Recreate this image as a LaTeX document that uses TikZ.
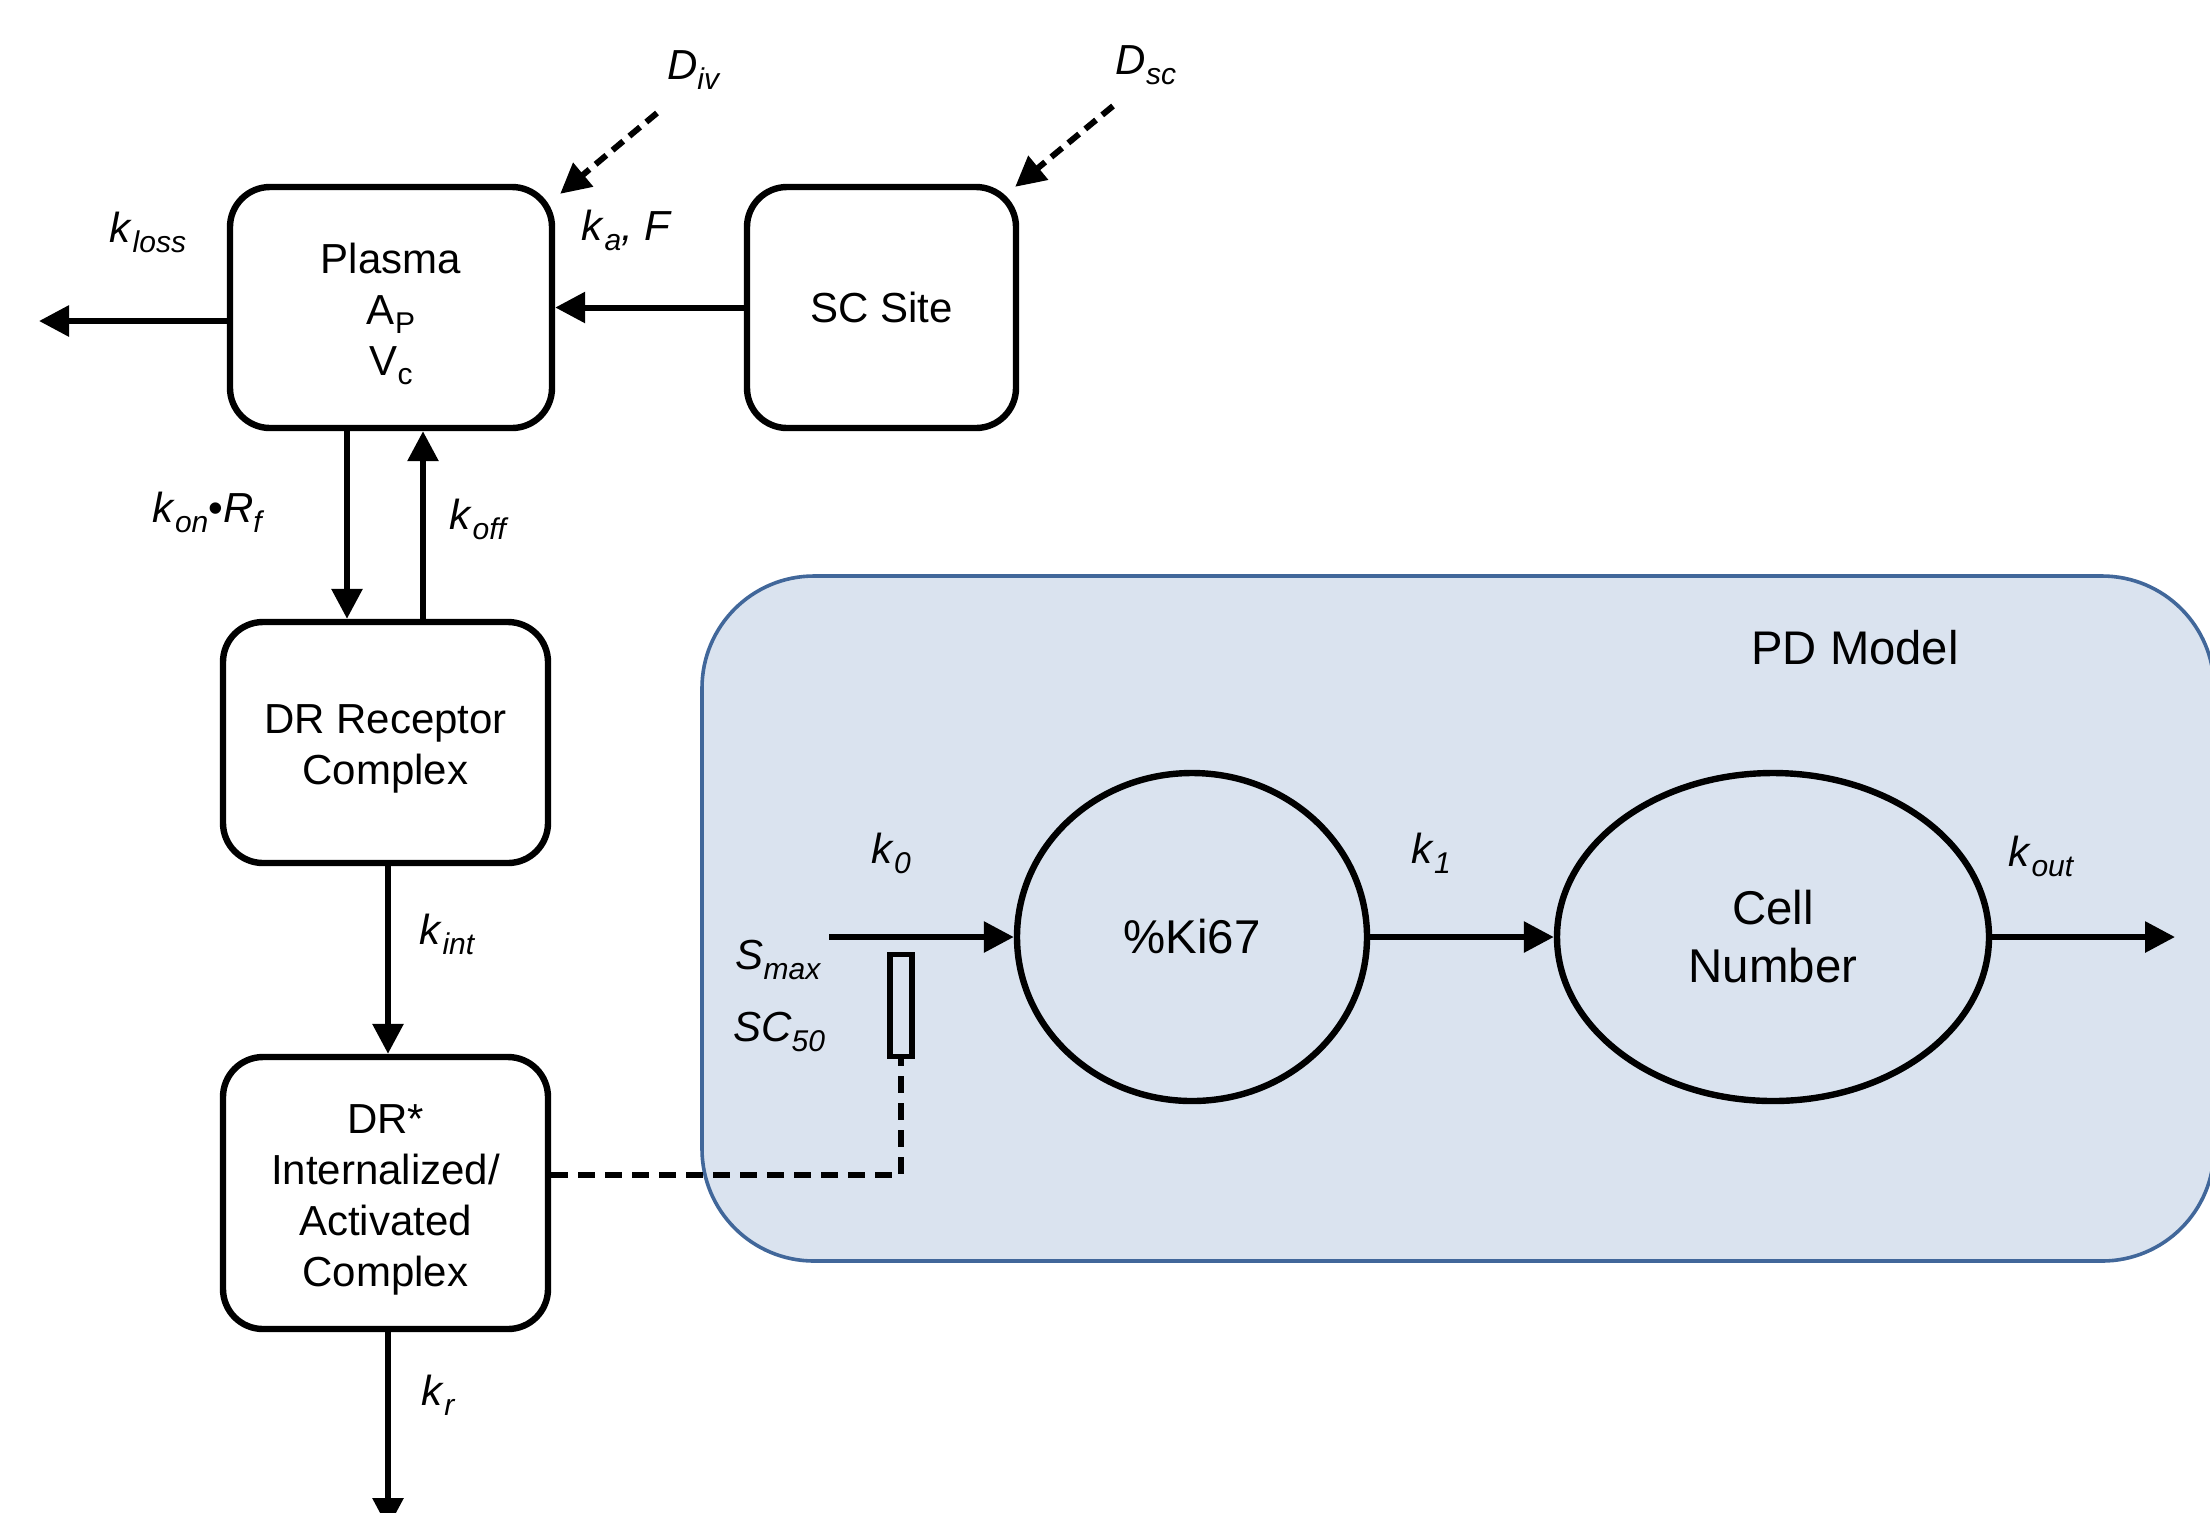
\documentclass[tikz,border=0pt]{standalone}
\usepackage{fontspec}
\setmainfont{Liberation Sans}
\usetikzlibrary{arrows.meta,shapes.geometric}
\definecolor{pdfill}{RGB}{218,227,239}
\definecolor{pdline}{RGB}{65,103,154}
\newcommand{\lsub}[2]{\textit{#1}\raisebox{-0.45ex}{\fontsize{15}{15}\selectfont\itshape #2}}
\newcommand{\usub}[2]{#1\raisebox{-0.4ex}{\fontsize{15}{15}\selectfont #2}}
\newcommand{\tstrut}{\rule{0pt}{21.3pt}}
\begin{document}
\begin{tikzpicture}[x=0.5pt,y=-0.5pt,
  box/.style={draw, line width=3.2pt, rounded corners=20pt, align=center,
    inner sep=0pt, font=\fontsize{21}{25.5}\selectfont},
  oval/.style={draw, ellipse, line width=3.2pt, align=center, inner sep=0pt,
    font=\fontsize{23.7}{29}\selectfont},
  flow/.style={line width=3pt, -{Triangle[length=15pt,width=15pt]}},
  dflow/.style={line width=3pt, dash pattern=on 7pt off 4pt, -{Triangle[length=15pt,width=15pt]}},
  dline/.style={line width=3pt, dash pattern=on 8.5pt off 5pt},
  lbl/.style={inner sep=0pt, font=\fontsize{21}{21}\selectfont},
  pdbox/.style={draw=pdline, fill=pdfill, line width=1.8pt, rounded corners=56pt}
]
\useasboundingbox (0,0) rectangle (2210,1512);

% PD model region
\node[pdbox, minimum width=756pt, minimum height=342.5pt, inner sep=0pt] (pd) at (1458,918.5) {};
\node[lbl, font=\fontsize{23.6}{23.6}\selectfont] (pdlabel) at (1855,648) {PD Model};

% compartments
\node[box, minimum width=161pt, minimum height=120.5pt] (plasma) at (391,307.5)
  {\tstrut Plasma\\\usub{A}{P}\\\usub{V}{c}};
\node[box, minimum width=134.5pt, minimum height=120.5pt] (sc) at (881.5,307.5) {SC Site};
\node[box, minimum width=162.5pt, minimum height=120.5pt] (dr) at (385.5,742.5) {\tstrut DR Receptor\\Complex};
\node[box, minimum width=162.5pt, minimum height=136pt] (drs) at (385.5,1193)
  {\tstrut DR*\\Internalized/\\Activated\\Complex};

\node[oval, minimum width=175pt, minimum height=164pt] (ki) at (1192,937) {\%Ki67};
\node[oval, minimum width=216pt, minimum height=164pt] (cell) at (1773,937) {Cell\\Number};

\node[draw, line width=2.7pt, fill=pdfill, minimum width=11pt, minimum height=51pt, inner sep=0pt] (sw) at (901,1005.5) {};

% coordinates for free ends
\coordinate (kl) at (39,321);
\coordinate (xon) at (347,0);
\coordinate (xoff) at (423,0);
\coordinate (div) at (657,113);
\coordinate (dsc) at (1113,106);
\coordinate (krend) at (388,1528);
\coordinate (k0s) at (829,937);
\coordinate (kout) at (2175,937);
\coordinate (dy) at (0,1175);

% PK connectors
\draw[flow] (plasma.west |- kl) -- (kl);
\draw[flow] (sc.west) -- (plasma.east);
\draw[dflow] (div) -- ([shift={(5,10)}]plasma.north east);
\draw[dflow] (dsc) -- ([shift={(-4,3)}]sc.north east);
\draw[flow] (plasma.south -| xon) -- (dr.north -| xon);
\draw[flow] (dr.north -| xoff) -- (plasma.south -| xoff);
\draw[flow] (dr.south -| krend) -- (drs.north -| krend);
\draw[flow] (drs.south -| krend) -- (krend);

% PD connectors
\draw[dline] (drs.east |- dy) -| (sw.south);
\draw[flow] (k0s) -- (ki.west);
\draw[flow] (ki.east) -- (cell.west);
\draw[flow] (cell.east) -- (kout);

% labels
\node[lbl] (lkloss) at (148,232) {\lsub{k}{loss}};
\node[lbl] (lka) at (627,230) {\lsub{k}{a}\textit{, F}};
\node[lbl] (ldiv) at (693,70) {\lsub{D}{iv}};
\node[lbl] (ldsc) at (1146,65) {\lsub{D}{sc}};
\node[lbl] (lkon) at (207,512) {\lsub{k}{on}\textbullet\lsub{R}{f}};
\node[lbl] (lkoff) at (478,519) {\lsub{k}{off}};
\node[lbl] (lkint) at (447,934) {\lsub{k}{int}};
\node[lbl] (lkr) at (438,1395) {\lsub{k}{r}};
\node[lbl] (lk0) at (891,853) {\lsub{k}{0}};
\node[lbl] (lsmax) at (778,960) {\lsub{S}{max}};
\node[lbl] (lsc50) at (779,1032) {\lsub{SC}{50}};
\node[lbl] (lk1) at (1431,853) {\lsub{k}{1}};
\node[lbl] (lkout) at (2041,856) {\lsub{k}{out}};
\end{tikzpicture}
\end{document}
